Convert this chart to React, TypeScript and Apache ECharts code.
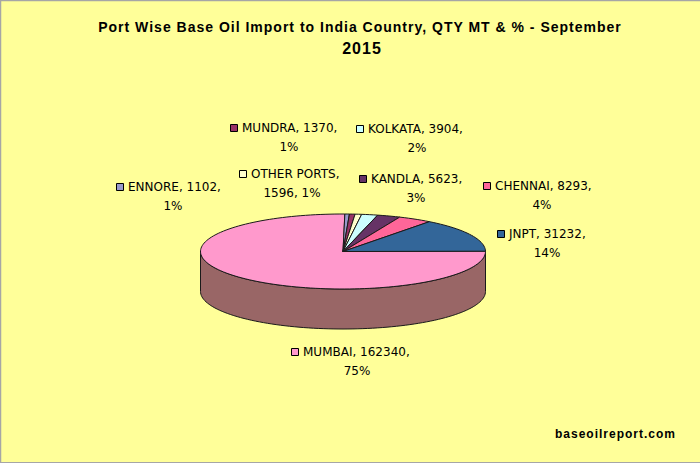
import React, { useEffect, useRef } from "react";
import * as echarts from "echarts";

const titleLines = ["Port Wise Base Oil Import to India Country, QTY MT & % - September", "2015"];
const credit = "baseoilreport.com";
const ports = ["MUMBAI", "ENNORE", "MUNDRA", "OTHER PORTS", "KOLKATA", "KANDLA", "CHENNAI", "JNPT"];
const quantities = [162340, 1102, 1370, 1596, 3904, 5623, 8293, 31232];
const percents = ["75%", "1%", "1%", "1%", "2%", "3%", "4%", "14%"];
const colors = ["#FF99CC", "#9999CC", "#993366", "#FFFFCC", "#CCFFFF", "#663366", "#FF6699", "#336699"];
// label text broken over two lines, as in the reference
const line1 = ports.map((p, i) =>
  p === "OTHER PORTS" ? `${p},` : `${p}, ${quantities[i]},`
);
const line2 = ports.map((p, i) =>
  p === "OTHER PORTS" ? `${quantities[i]}, ${percents[i]}` : percents[i]
);
// [key x, line 1 y, line 2 centre x, line 2 y]
const labelLayout = [
  [291, 352, 357, 371],
  [116, 187, 173, 206],
  [230, 128, 289, 147],
  [239, 174, 292, 193],
  [356, 129, 417, 148],
  [359, 179, 416, 198],
  [483, 186, 542, 205],
  [497, 234, 547, 253],
];

const CX = 343, CY = 251.5, RX = 142.5, RY = 37.5, DEPTH = 40;
const ROTATION = -0.5;
const SIDE = "#996666";
const OUTLINE = "#1a1a1a";
const BORDER = "#A6A6A6";
const FONT = "DejaVu Sans";
const total = quantities.reduce((a, b) => a + b, 0);

const pt = (deg: number, dy = 0) => {
  const r = (deg * Math.PI) / 180;
  return [CX + RX * Math.cos(r), CY + dy + RY * Math.sin(r)];
};
const arc = (a: number, b: number, dy = 0) => {
  const n = Math.max(2, Math.ceil(Math.abs(b - a) / 2));
  const out: number[][] = [];
  for (let i = 0; i <= n; i++) out.push(pt(a + ((b - a) * i) / n, dy));
  return out;
};

function renderItem(params: any) {
  const i = params.dataIndex;
  let start = ROTATION;
  for (let k = 0; k < i; k++) start += (quantities[k] / total) * 360;
  const end = start + (quantities[i] / total) * 360;
  const children: any[] = [];
  const sa = Math.max(0, Math.min(start, 180)), sb = Math.min(end, 180);
  if (sb > sa) {
    children.push({
      type: "polygon",
      shape: { points: [...arc(sa, sb), ...arc(sb, sa, DEPTH)] },
      style: { fill: SIDE, stroke: OUTLINE, lineWidth: 1 },
    });
  }
  children.push({
    type: "polygon",
    shape: { points: [[CX, CY], ...arc(start, end)] },
    style: { fill: colors[i], stroke: OUTLINE, lineWidth: 1 },
  });
  const [kx, y1, cx2, y2] = labelLayout[i];
  children.push(
    {
      type: "rect",
      shape: { x: kx + 0.5, y: y1 - 3.5, width: 7, height: 7 },
      style: { fill: colors[i], stroke: "#000", lineWidth: 1 },
    },
    {
      type: "text",
      x: kx + 12,
      y: y1,
      style: { text: line1[i], fill: "#000", font: `12px '${FONT}'`, textAlign: "left", textVerticalAlign: "middle" },
    },
    {
      type: "text",
      x: cx2,
      y: y2,
      style: { text: line2[i], fill: "#000", font: `12px '${FONT}'`, textAlign: "center", textVerticalAlign: "middle" },
    }
  );
  return { type: "group", children };
}

export default function App() {
  const ref = useRef<HTMLDivElement>(null);
  useEffect(() => {
    document.body.style.margin = "0";
    const chart = echarts.init(ref.current!, undefined, { renderer: "svg" });
    chart.setOption({
      animation: false,
      backgroundColor: "#FFFF99",
      graphic: [
        { type: "line", shape: { x1: 0, y1: 0.5, x2: 700, y2: 0.5 }, style: { stroke: BORDER, lineWidth: 1.5 } },
        { type: "line", shape: { x1: 0.5, y1: 0, x2: 0.5, y2: 463 }, style: { stroke: BORDER, lineWidth: 1.5 } },
        { type: "line", shape: { x1: 0, y1: 462.5, x2: 700, y2: 462.5 }, style: { stroke: BORDER, lineWidth: 1 } },
        {
          type: "text",
          x: 360,
          y: 27,
          style: { text: titleLines[0], fill: "#000", font: "bold 14px 'Liberation Sans'", textAlign: "center", textVerticalAlign: "middle" },
        },
        {
          type: "text",
          x: 362,
          y: 48,
          style: { text: titleLines[1], fill: "#000", font: "bold 16px 'Liberation Sans'", textAlign: "center", textVerticalAlign: "middle" },
        },
        {
          type: "text",
          x: 676,
          y: 434,
          style: { text: credit, fill: "#000", font: "bold 12px 'Liberation Sans'", textAlign: "right", textVerticalAlign: "middle" },
        },
      ],
      series: [
        {
          type: "custom",
          coordinateSystem: "none",
          silent: true,
          renderItem,
          data: quantities.map((v, i) => ({ name: ports[i], value: v })),
        },
      ],
    });
    ref.current!.querySelectorAll("svg text").forEach((el) => {
      const t = el.textContent || "";
      if (t === titleLines[0] || t === titleLines[1] || t === credit) (el as SVGElement).style.letterSpacing = "1px";
    });
    return () => chart.dispose();
  }, []);
  return <div ref={ref} style={{ width: 700, height: 463 }} />;
}
